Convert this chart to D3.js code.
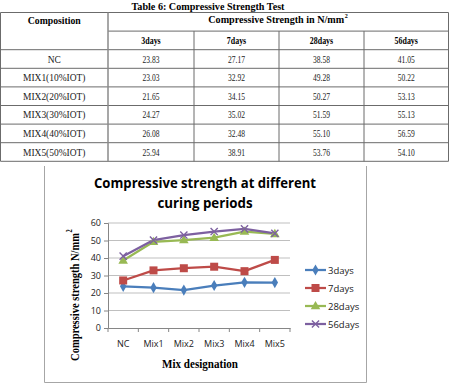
<!DOCTYPE html>
<html>
<head>
<meta charset="utf-8">
<script src="https://cdn.jsdelivr.net/npm/d3@7"></script>
<style>
  html, body { margin: 0; padding: 0; background: #fff; }
  svg { display: block; }
</style>
</head>
<body>
<div id="chart"></div>
<script>
const mixes = ['NC', 'Mix1', 'Mix2', 'Mix3', 'Mix4', 'Mix5'];
const compositions = ['NC', 'MIX1(10%IOT)', 'MIX2(20%IOT)', 'MIX3(30%IOT)', 'MIX4(40%IOT)', 'MIX5(50%IOT)'];
const days = ['3days', '7days', '28days', '56days'];
const days3 = [23.83, 23.03, 21.65, 24.27, 26.08, 25.94];
const days7 = [27.17, 32.92, 34.15, 35.02, 32.48, 38.91];
const days28 = [38.58, 49.28, 50.27, 51.59, 55.10, 53.76];
const days56 = [41.05, 50.22, 53.13, 55.13, 56.59, 54.10];
const yTicks = [0, 10, 20, 30, 40, 50, 60];

const seriesValues = [days3, days7, days28, days56];
const colors = ['#4a7ebb', '#be4b48', '#98b954', '#7d60a0'];
const shapes = ['diamond', 'square', 'triangle', 'x'];

const W = 449, H = 385;
const serif = '"Liberation Serif", "Times New Roman", serif';
const sans = '"Open Sans", "Noto Sans", sans-serif';

const svg = d3.select('#chart').append('svg')
  .attr('width', W)
  .attr('height', H);

// text helper: squeezes text to a target width (w) or by a factor (sx)
function label(sel, x, y, str, o) {
  const anchor = o.anchor || 'middle';
  const style = t => t
    .attr('dominant-baseline', 'central')
    .attr('fill', o.fill || '#000')
    .style('font-family', o.font)
    .style('font-weight', o.bold ? 'bold' : 'normal');

  if (o.sup) {
    // squeezed with a scale transform so the superscript sits right after the text
    const g = sel.append('g');
    const t = style(g.append('text')).attr('text-anchor', anchor)
      .style('font-size', o.size + 'px').text(str);
    const len = t.node().getComputedTextLength();
    const sx = o.w ? o.w / len : (o.sx || 1);
    const end = anchor === 'middle' ? len / 2 : len;
    style(g.append('text'))
      .attr('x', end + 0.5)
      .attr('y', -o.size * 0.42)
      .style('font-size', (o.size * 0.6) + 'px')
      .text(o.sup);
    g.attr('transform', `translate(${x},${y}) scale(${sx},1)`);
    return t;
  }

  const t = style(sel.append('text'))
    .attr('x', x)
    .attr('y', y)
    .attr('text-anchor', anchor)
    .style('font-size', o.size + 'px')
    .text(str);
  if (o.w || o.sx) {
    const len = t.node().getComputedTextLength();
    t.attr('textLength', o.w || len * o.sx)
      .attr('lengthAdjust', 'spacingAndGlyphs');
  }
  return t;
}

// ---------- table ----------
const cols = [0.5, 108, 194, 279, 364, 448.5];
const tableTop = 12.5, rh = 18.6;
const nRows = 2 + compositions.length;
const table = svg.append('g');
const lineColor = '#6b6b6b';

label(table, 208, 6, 'Table 6: Compressive Strength Test', { font: serif, size: 11, bold: true, w: 153 });

// horizontal rules
for (let r = 0; r <= nRows; r++) {
  const yy = tableTop + r * rh;
  table.append('line')
    .attr('x1', r === 1 ? cols[1] : cols[0])
    .attr('x2', cols[5])
    .attr('y1', yy).attr('y2', yy)
    .attr('stroke', lineColor).attr('stroke-width', 1);
}
// vertical rules
cols.forEach((cx, i) => {
  table.append('line')
    .attr('x1', cx).attr('x2', cx)
    .attr('y1', (i >= 2 && i <= 4) ? tableTop + rh : tableTop)
    .attr('y2', tableTop + nRows * rh)
    .attr('stroke', i === 1 ? '#8a8a8a' : lineColor)
    .attr('stroke-width', i === 1 ? 1.5 : 1);
});

const colMid = i => (cols[i] + cols[i + 1]) / 2;
const rowMid = r => tableTop + r * rh + rh / 2;

label(table, colMid(0), rowMid(0) - 2, 'Composition', { font: serif, size: 11, bold: true, w: 53 });
label(table, (cols[1] + cols[5]) / 2 - 2, rowMid(0) - 2, 'Compressive Strength in N/mm', { font: serif, size: 11, bold: true, sup: '2', w: 136 });
days.forEach((d, i) => {
  label(table, colMid(i + 1), rowMid(1), d, { font: serif, size: 11, bold: true, sx: 0.72 });
});
const fmt = d3.format('.2f');
compositions.forEach((c, r) => {
  label(table, colMid(0), rowMid(r + 2), c, { font: serif, size: 10.5, sx: 0.9, fill: '#222' });
  seriesValues.forEach((vals, i) => {
    label(table, colMid(i + 1), rowMid(r + 2), fmt(vals[r]), { font: serif, size: 10.5, sx: 0.72, fill: '#222' });
  });
});

// ---------- chart ----------
const frame = svg.append('g');
frame.append('path')
  .attr('d', 'M44.5,166 V382.5 H366.5 V166')
  .attr('fill', 'none')
  .attr('stroke', '#a6a6a6')
  .attr('stroke-width', 1);

label(frame, 205, 182, 'Compressive strength at different', { font: sans, size: 15, bold: true, w: 222 });
label(frame, 205, 202, 'curing periods', { font: sans, size: 15, bold: true, w: 95 });

const x = d3.scaleBand().domain(mixes).range([108, 290]);
const y = d3.scaleLinear().domain([0, 60]).range([328, 223]);

// gridlines
const grid = svg.append('g');
grid.selectAll('line')
  .data(yTicks.filter(t => t > 0))
  .join('line')
  .attr('x1', x.range()[0]).attr('x2', x.range()[1])
  .attr('y1', d => y(d)).attr('y2', d => y(d))
  .attr('stroke', '#bfbfbf').attr('stroke-width', 1);

// y axis
const yAxis = svg.append('g')
  .attr('transform', `translate(${x.range()[0]},0)`)
  .call(d3.axisLeft(y).tickValues(yTicks).tickSize(4).tickPadding(3));
yAxis.select('.domain').attr('stroke', '#868686');
yAxis.selectAll('.tick line').attr('stroke', '#868686');
yAxis.selectAll('.tick text')
  .attr('fill', '#222')
  .style('font-family', sans)
  .style('font-size', '9px');

// x axis: labels centred, tick marks between categories
const xAxis = svg.append('g')
  .attr('transform', `translate(0,${y(0)})`)
  .call(d3.axisBottom(x).tickSize(0).tickPadding(13));
xAxis.select('.domain').attr('stroke', '#868686');
xAxis.selectAll('.tick text')
  .attr('fill', '#222')
  .style('font-family', sans)
  .style('font-size', '9px');
const edges = mixes.map(m => x(m)).concat([x.range()[1]]);
xAxis.selectAll('.edge')
  .data(edges)
  .join('line')
  .attr('class', 'edge')
  .attr('x1', d => d).attr('x2', d => d)
  .attr('y1', 0).attr('y2', 4)
  .attr('stroke', '#868686');

// axis titles
const yTitle = svg.append('g').attr('transform', 'translate(75,297) rotate(-90)');
label(yTitle, 0, 0, 'Compressive strength N/mm', { font: serif, size: 12.5, bold: true, sup: '2', w: 128 });
label(svg, 200, 364, 'Mix designation', { font: serif, size: 12.5, bold: true, w: 76 });

// marker drawer
function marker(g, shape, color, cx, cy) {
  if (shape === 'diamond') {
    g.append('path').attr('d', d3.symbol(d3.symbolDiamond, 36)())
      .attr('transform', `translate(${cx},${cy})`).attr('fill', color);
  } else if (shape === 'square') {
    g.append('rect').attr('x', cx - 4).attr('y', cy - 4)
      .attr('width', 8).attr('height', 8).attr('fill', color);
  } else if (shape === 'triangle') {
    g.append('path').attr('d', d3.symbol(d3.symbolTriangle, 40)())
      .attr('transform', `translate(${cx},${cy + 0.5})`).attr('fill', color);
  } else {
    const r = 3.6;
    g.append('path')
      .attr('d', `M${cx - r},${cy - r}L${cx + r},${cy + r}M${cx - r},${cy + r}L${cx + r},${cy - r}`)
      .attr('stroke', color).attr('stroke-width', 1.4).attr('fill', 'none');
  }
}

const line = d3.line()
  .x((d, i) => x(mixes[i]) + x.bandwidth() / 2)
  .y(d => y(d));

const plot = svg.append('g');
seriesValues.forEach((vals, s) => {
  plot.append('path')
    .attr('d', line(vals))
    .attr('fill', 'none')
    .attr('stroke', colors[s])
    .attr('stroke-width', 2.25)
    .attr('stroke-linejoin', 'round');
});
seriesValues.forEach((vals, s) => {
  vals.forEach((v, i) => {
    marker(plot, shapes[s], colors[s], x(mixes[i]) + x.bandwidth() / 2, y(v));
  });
});

// legend
const legend = svg.append('g');
days.forEach((d, s) => {
  const ly = 270 + s * 18;
  legend.append('line')
    .attr('x1', 305).attr('x2', 326)
    .attr('y1', ly).attr('y2', ly)
    .attr('stroke', colors[s]).attr('stroke-width', 2.25);
  marker(legend, shapes[s], colors[s], 315.5, ly);
  label(legend, 328, ly, d, { font: sans, size: 9.5, anchor: 'start', fill: '#222' });
});
</script>
</body>
</html>
